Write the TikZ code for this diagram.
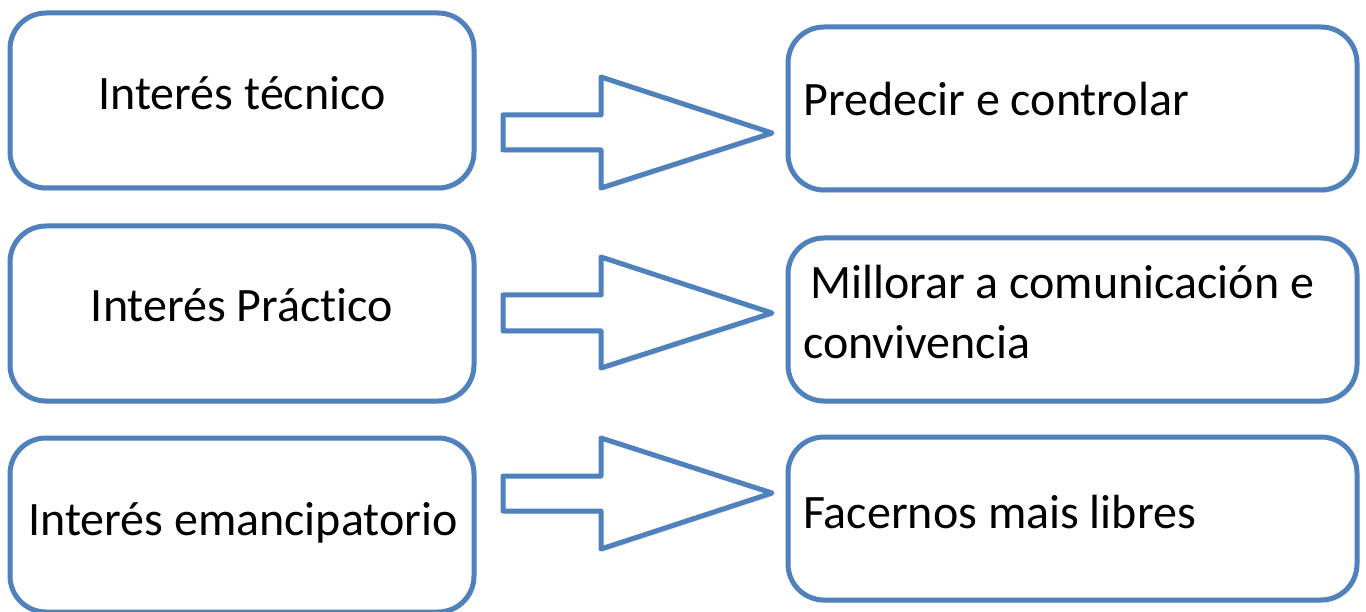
\documentclass[tikz,border=0pt]{standalone}
\usepackage{fontspec}
\setmainfont[Ligatures=NoCommon]{Carlito}
\usetikzlibrary{shadows}
\definecolor{officeblue}{HTML}{4F81BD}
\tikzset{
  x=1pt, y=-1pt,
  roundbox/.style={draw=officeblue, line width=5pt, fill=white, rounded corners=36pt,
    drop shadow={opacity=0.18, shadow xshift=1.5pt, shadow yshift=-3pt}},
  blockarrow/.style={draw=officeblue, line width=5pt, fill=white, line join=round,
    drop shadow={opacity=0.18, shadow xshift=1.5pt, shadow yshift=-3pt}},
  lbl/.style={font=\fontsize{48}{58}\selectfont, inner sep=0pt, text=black},
}
\begin{document}
\begin{tikzpicture}
\useasboundingbox (0,0) rectangle (1366,612);
% left boxes
\draw[roundbox] (10,13) rectangle (474,188);
\draw[roundbox] (10,226) rectangle (474,401);
\draw[roundbox] (10,438) rectangle (474,612);
% right boxes
\draw[roundbox] (788,27) rectangle (1357,190);
\draw[roundbox] (788,238) rectangle (1357,401);
\draw[roundbox] (788,437) rectangle (1357,600);
% block arrows
\foreach \yt/\ys/\yb/\ha/\hb in {133/115/150/77/188, 313/295/331/257/368, 493/476/511/438/549}{
  \draw[blockarrow] (503,\ys) -- (601,\ys) -- (601,\ha) -- (772,\yt) -- (601,\hb) -- (601,\yb) -- (503,\yb) -- cycle;
}
% texts
\node[lbl, anchor=base] (t1) at (242,110) {Interés técnico};
\node[lbl, anchor=base] (t2) at (242,322) {Interés Práct\kern0pt ico};
\node[lbl, anchor=base] (t3) at (243,535) {Interés emancipatorio};
\node[lbl, anchor=base west] (t4) at (803,116) {Predecir e controlar};
\node[lbl, anchor=base west] (t5) at (810,299) {Millorar a comunicación e};
\node[lbl, anchor=base west] (t6) at (803,359) {convivencia};
\node[lbl, anchor=base west] (t7) at (803,528) {Facernos mais libres};
\end{tikzpicture}
\end{document}
